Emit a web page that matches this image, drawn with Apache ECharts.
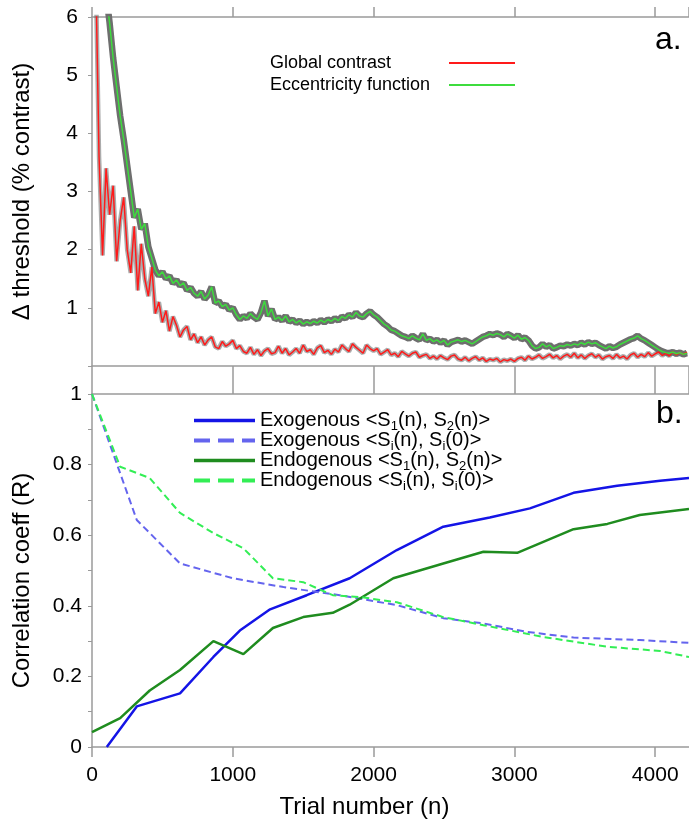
<!DOCTYPE html>
<html>
<head>
<meta charset="utf-8">
<script src="https://cdn.jsdelivr.net/npm/echarts@6/dist/echarts.min.js"></script>
<style>
  html, body { margin: 0; padding: 0; background: #fff; }
  #main { width: 689px; height: 821px; }
</style>
</head>
<body>
<div id="main"></div>
<script>
// panel a: thresholds, one value every 25 trials
const stepA = 25
const globalContrast = [
  6.5, 7, 3.6, 1.9, 3.4, 2.6, 3.1, 1.8, 2.5, 2.9, 2.0, 1.6, 2.4, 1.3, 2.1, 1.5, 1.2, 1.7, 0.9, 1.1,
  0.75, 0.95, 0.6, 0.85, 0.7, 0.5, 0.62, 0.68, 0.45, 0.55, 0.4, 0.5, 0.36, 0.45, 0.5, 0.33, 0.3, 0.42, 0.34, 0.38,
  0.44, 0.3, 0.35, 0.25, 0.22, 0.32, 0.2, 0.28, 0.18, 0.26, 0.3, 0.21, 0.23, 0.34, 0.22, 0.3, 0.19, 0.24, 0.3, 0.22,
  0.36, 0.25, 0.28, 0.2, 0.31, 0.35, 0.23, 0.27, 0.2, 0.29, 0.24, 0.36, 0.3, 0.25, 0.38, 0.32, 0.27, 0.22, 0.36, 0.3,
  0.26, 0.3, 0.2, 0.24, 0.28, 0.19, 0.22, 0.16, 0.25, 0.21, 0.17, 0.22, 0.24, 0.15, 0.18, 0.2, 0.13, 0.17, 0.12, 0.18,
  0.14, 0.11, 0.17, 0.19, 0.12, 0.1, 0.15, 0.09, 0.13, 0.16, 0.1, 0.14, 0.08, 0.12, 0.1, 0.13, 0.07, 0.11, 0.09, 0.12,
  0.08, 0.13, 0.15, 0.1, 0.17, 0.12, 0.15, 0.19, 0.13, 0.16, 0.2, 0.14, 0.18, 0.12, 0.17, 0.2, 0.15, 0.22, 0.14, 0.19,
  0.13, 0.18, 0.21, 0.15, 0.19, 0.12, 0.16, 0.18, 0.13, 0.2, 0.14, 0.17, 0.12, 0.19, 0.22, 0.15, 0.2, 0.16, 0.23, 0.17,
  0.21, 0.24, 0.18, 0.22, 0.17, 0.25, 0.19, 0.23, 0.2, 0.24
]
// eccentricity curve starts at trial 75
const eccStart = 75
const eccentricity = [
  7.5, 6.4, 5.9, 5.3, 4.8, 4.3, 3.9, 3.45, 3.0, 2.55, 2.7, 2.35, 2.45, 2.05, 1.85, 1.65, 1.55, 1.62, 1.5, 1.55,
  1.42, 1.48, 1.38, 1.43, 1.3, 1.35, 1.25, 1.2, 1.28, 1.15, 1.22, 1.36, 1.08, 1.12, 1.02, 1.06, 0.96, 1.0, 0.88, 0.8,
  0.86, 0.82, 0.9, 0.84, 0.8, 0.92, 1.12, 0.86, 0.98, 0.8, 0.84, 0.78, 0.86, 0.76, 0.8, 0.74, 0.78, 0.72, 0.76, 0.73,
  0.77, 0.74, 0.79, 0.75, 0.8, 0.77, 0.82, 0.78, 0.85, 0.82, 0.88, 0.84, 0.92, 0.86, 0.84, 0.9, 0.94, 0.88, 0.84, 0.78,
  0.72, 0.68, 0.62, 0.6, 0.56, 0.52, 0.5, 0.47, 0.52, 0.48, 0.45, 0.55, 0.44, 0.47, 0.42, 0.45, 0.4, 0.44, 0.36, 0.41,
  0.43, 0.45, 0.42, 0.44, 0.41, 0.38, 0.42, 0.46, 0.5, 0.52, 0.55, 0.53, 0.56, 0.54, 0.5, 0.55, 0.52, 0.48, 0.53, 0.46,
  0.49, 0.44, 0.35, 0.3, 0.32, 0.38, 0.33, 0.36, 0.3, 0.32, 0.35, 0.34, 0.37, 0.35, 0.38, 0.36, 0.4, 0.37, 0.41, 0.38,
  0.4, 0.36, 0.33, 0.3, 0.34, 0.31, 0.33, 0.37, 0.4, 0.43, 0.46, 0.48, 0.52, 0.47, 0.44, 0.4, 0.36, 0.32, 0.28, 0.25,
  0.23, 0.22, 0.24, 0.21, 0.23, 0.2, 0.22
]

// panel b: correlation coefficients
const exoCrossN = [105, 318, 625, 862, 1050, 1265, 1525, 1830, 2165, 2495, 2825, 3110, 3420, 3730, 4035, 4240]
const exoCross = [0, 0.115, 0.152, 0.255, 0.33, 0.39, 0.43, 0.478, 0.558, 0.624, 0.65, 0.676, 0.72, 0.74, 0.754, 0.762]
const exoSelfN = [0, 318, 625, 1000, 1360, 1760, 2165, 2495, 2780, 3090, 3420, 3890, 4240]
const exoSelf = [1.0, 0.643, 0.52, 0.478, 0.453, 0.43, 0.402, 0.365, 0.35, 0.326, 0.31, 0.303, 0.295]
const endoCrossN = [0, 200, 410, 625, 862, 1075, 1285, 1500, 1710, 1830, 2140, 2495, 2780, 3020, 3420, 3660, 3890, 4240]
const endoCross = [0.042, 0.082, 0.16, 0.218, 0.3, 0.263, 0.337, 0.368, 0.38, 0.403, 0.478, 0.52, 0.553, 0.55, 0.617, 0.632, 0.657, 0.674]
const endoSelfN = [0, 200, 410, 625, 862, 1075, 1285, 1500, 1710, 1900, 2165, 2495, 2780, 3200, 3660, 4035, 4240]
const endoSelf = [1.0, 0.794, 0.762, 0.663, 0.606, 0.563, 0.478, 0.467, 0.43, 0.425, 0.41, 0.368, 0.345, 0.312, 0.284, 0.272, 0.255]

const xMax = 4240

const font = 'Liberation Sans, Arial, Helvetica, sans-serif'
const axisGray = '#9a9a9a'

const pairs = (xs, ys) => ys.map((v, i) => [xs[i], v])
const stepped = (start, step, ys) => ys.map((v, i) => [start + i * step, v])

const redData = stepped(0, stepA, globalContrast)
const greenData = stepped(eccStart, stepA, eccentricity)

const xBase = (grid, pos, tickLen, labels) => ({
  type: 'value', gridIndex: grid, position: pos, min: 0, max: xMax, interval: 1000,
  axisLine: { onZero: false, lineStyle: { color: axisGray, width: 1.5 } },
  axisTick: { show: true, length: tickLen, lineStyle: { color: axisGray, width: 1.5 } },
  splitLine: { show: false },
  axisLabel: labels
    ? { show: true, color: '#000', fontSize: 21, fontFamily: font, margin: 18, formatter: v => String(v) }
    : { show: false }
})

const chart = echarts.init(document.getElementById('main'), null, { renderer: 'canvas' })

chart.setOption({
  animation: false,
  backgroundColor: '#fff',
  grid: [
    { left: 92, top: 17, width: 597, height: 349 },
    { left: 92, top: 394, width: 597, height: 353 }
  ],
  xAxis: [
    xBase(0, 'bottom', 14, false),
    xBase(0, 'top', 10, false),
    Object.assign(xBase(1, 'bottom', 10, true), {
      name: 'Trial number (n)', nameLocation: 'middle', nameGap: 48,
      nameTextStyle: { color: '#000', fontSize: 24, fontFamily: font, padding: [0, 52, 0, 0] }
    }),
    xBase(1, 'top', 14, false)
  ],
  yAxis: [
    {
      type: 'value', gridIndex: 0, min: 0, max: 6, interval: 1,
      name: 'Δ threshold (% contrast)', nameLocation: 'middle', nameGap: 58,
      nameTextStyle: { color: '#000', fontSize: 24, fontFamily: font },
      axisLine: { lineStyle: { color: axisGray, width: 1.5 } },
      axisTick: { length: 4, lineStyle: { color: axisGray } },
      splitLine: { show: false },
      axisLabel: {
        color: '#000', fontSize: 21, fontFamily: font, margin: 14,
        formatter: v => (v === 0 ? '' : String(v))
      }
    },
    {
      type: 'value', gridIndex: 1, min: 0, max: 1, interval: 0.2,
      name: 'Correlation coeff (R)', nameLocation: 'middle', nameGap: 58,
      nameTextStyle: { color: '#000', fontSize: 24, fontFamily: font, padding: [0, 20, 0, 0] },
      axisLine: { lineStyle: { color: axisGray, width: 1.5 } },
      axisTick: { length: 4, lineStyle: { color: axisGray } },
      minorTick: { show: true, splitNumber: 2, length: 4, lineStyle: { color: axisGray } },
      splitLine: { show: false },
      axisLabel: { color: '#000', fontSize: 21, fontFamily: font, margin: 10 }
    }
  ],
  legend: [
    {
      data: ['Global contrast', 'Eccentricity function'],
      orient: 'vertical', left: 265, top: 49, align: 'right',
      itemWidth: 66, itemHeight: 14, itemGap: 4,
      lineStyle: { width: 2 },
      itemStyle: { opacity: 0 },
      formatter: name => '{t|' + name + '}',
      textStyle: {
        color: '#000', fontSize: 18, fontFamily: font,
        rich: { t: { width: 174, align: 'left', fontSize: 18, fontFamily: font } }
      }
    },
    {
      data: [
        { name: 'Exogenous <S1(n), S2(n)>' },
        { name: 'Exogenous <Si(n), Si(0)>', lineStyle: { type: [16, 8], width: 4 } },
        { name: 'Endogenous <S1(n), S2(n)>' },
        { name: 'Endogenous <Si(n), Si(0)>', lineStyle: { type: [16, 8], width: 4 } }
      ],
      orient: 'vertical', left: 187, top: 403,
      itemWidth: 61, itemHeight: 14, itemGap: -5,
      lineStyle: { width: 3.5 },
      itemStyle: { opacity: 0 },
      formatter: name => name.replace(/S([12i])/g, 'S{sub|$1}'),
      textStyle: {
        color: '#000', fontSize: 20, fontFamily: font, lineHeight: 20,
        rich: { sub: { fontSize: 13, fontFamily: font, lineHeight: 12, padding: [12, 0, 0, 0] } }
      }
    }
  ],
  graphic: [
    { type: 'text', left: 655, top: 24, style: { text: 'a.', fontSize: 32, fontFamily: font, fill: '#000' } },
    { type: 'text', left: 656, top: 398, style: { text: 'b.', fontSize: 32, fontFamily: font, fill: '#000' } }
  ],
  series: [
    {
      name: 'gray-red', type: 'line', xAxisIndex: 0, yAxisIndex: 0, data: redData,
      symbol: 'none', lineStyle: { color: 'rgba(90,90,90,0.5)', width: 4.5 }, silent: true
    },
    {
      name: 'gray-green', type: 'line', xAxisIndex: 0, yAxisIndex: 0, data: greenData,
      symbol: 'none', lineStyle: { color: '#6e6e6e', width: 6.5 }, silent: true
    },
    {
      name: 'Global contrast', type: 'line', xAxisIndex: 0, yAxisIndex: 0, data: redData,
      symbol: 'none', color: '#ff1a1a', lineStyle: { color: '#ff1a1a', width: 1.5 }
    },
    {
      name: 'Eccentricity function', type: 'line', xAxisIndex: 0, yAxisIndex: 0, data: greenData,
      symbol: 'none', color: '#3ddc3d', lineStyle: { color: '#3ddc3d', width: 1.5 }
    },
    {
      name: 'Exogenous <S1(n), S2(n)>', type: 'line', xAxisIndex: 2, yAxisIndex: 1, data: pairs(exoCrossN, exoCross),
      symbol: 'none', color: '#1414e6', lineStyle: { color: '#1414e6', width: 2.5 }
    },
    {
      name: 'Exogenous <Si(n), Si(0)>', type: 'line', xAxisIndex: 2, yAxisIndex: 1, data: pairs(exoSelfN, exoSelf),
      symbol: 'none', color: '#6464ee', lineStyle: { color: '#6464ee', width: 2, type: [7, 4] }
    },
    {
      name: 'Endogenous <S1(n), S2(n)>', type: 'line', xAxisIndex: 2, yAxisIndex: 1, data: pairs(endoCrossN, endoCross),
      symbol: 'none', color: '#1f8c1f', lineStyle: { color: '#1f8c1f', width: 2.5 }
    },
    {
      name: 'Endogenous <Si(n), Si(0)>', type: 'line', xAxisIndex: 2, yAxisIndex: 1, data: pairs(endoSelfN, endoSelf),
      symbol: 'none', color: '#33ee55', lineStyle: { color: '#33ee55', width: 2, type: [7, 4] }
    }
  ]
})
</script>
</body>
</html>
